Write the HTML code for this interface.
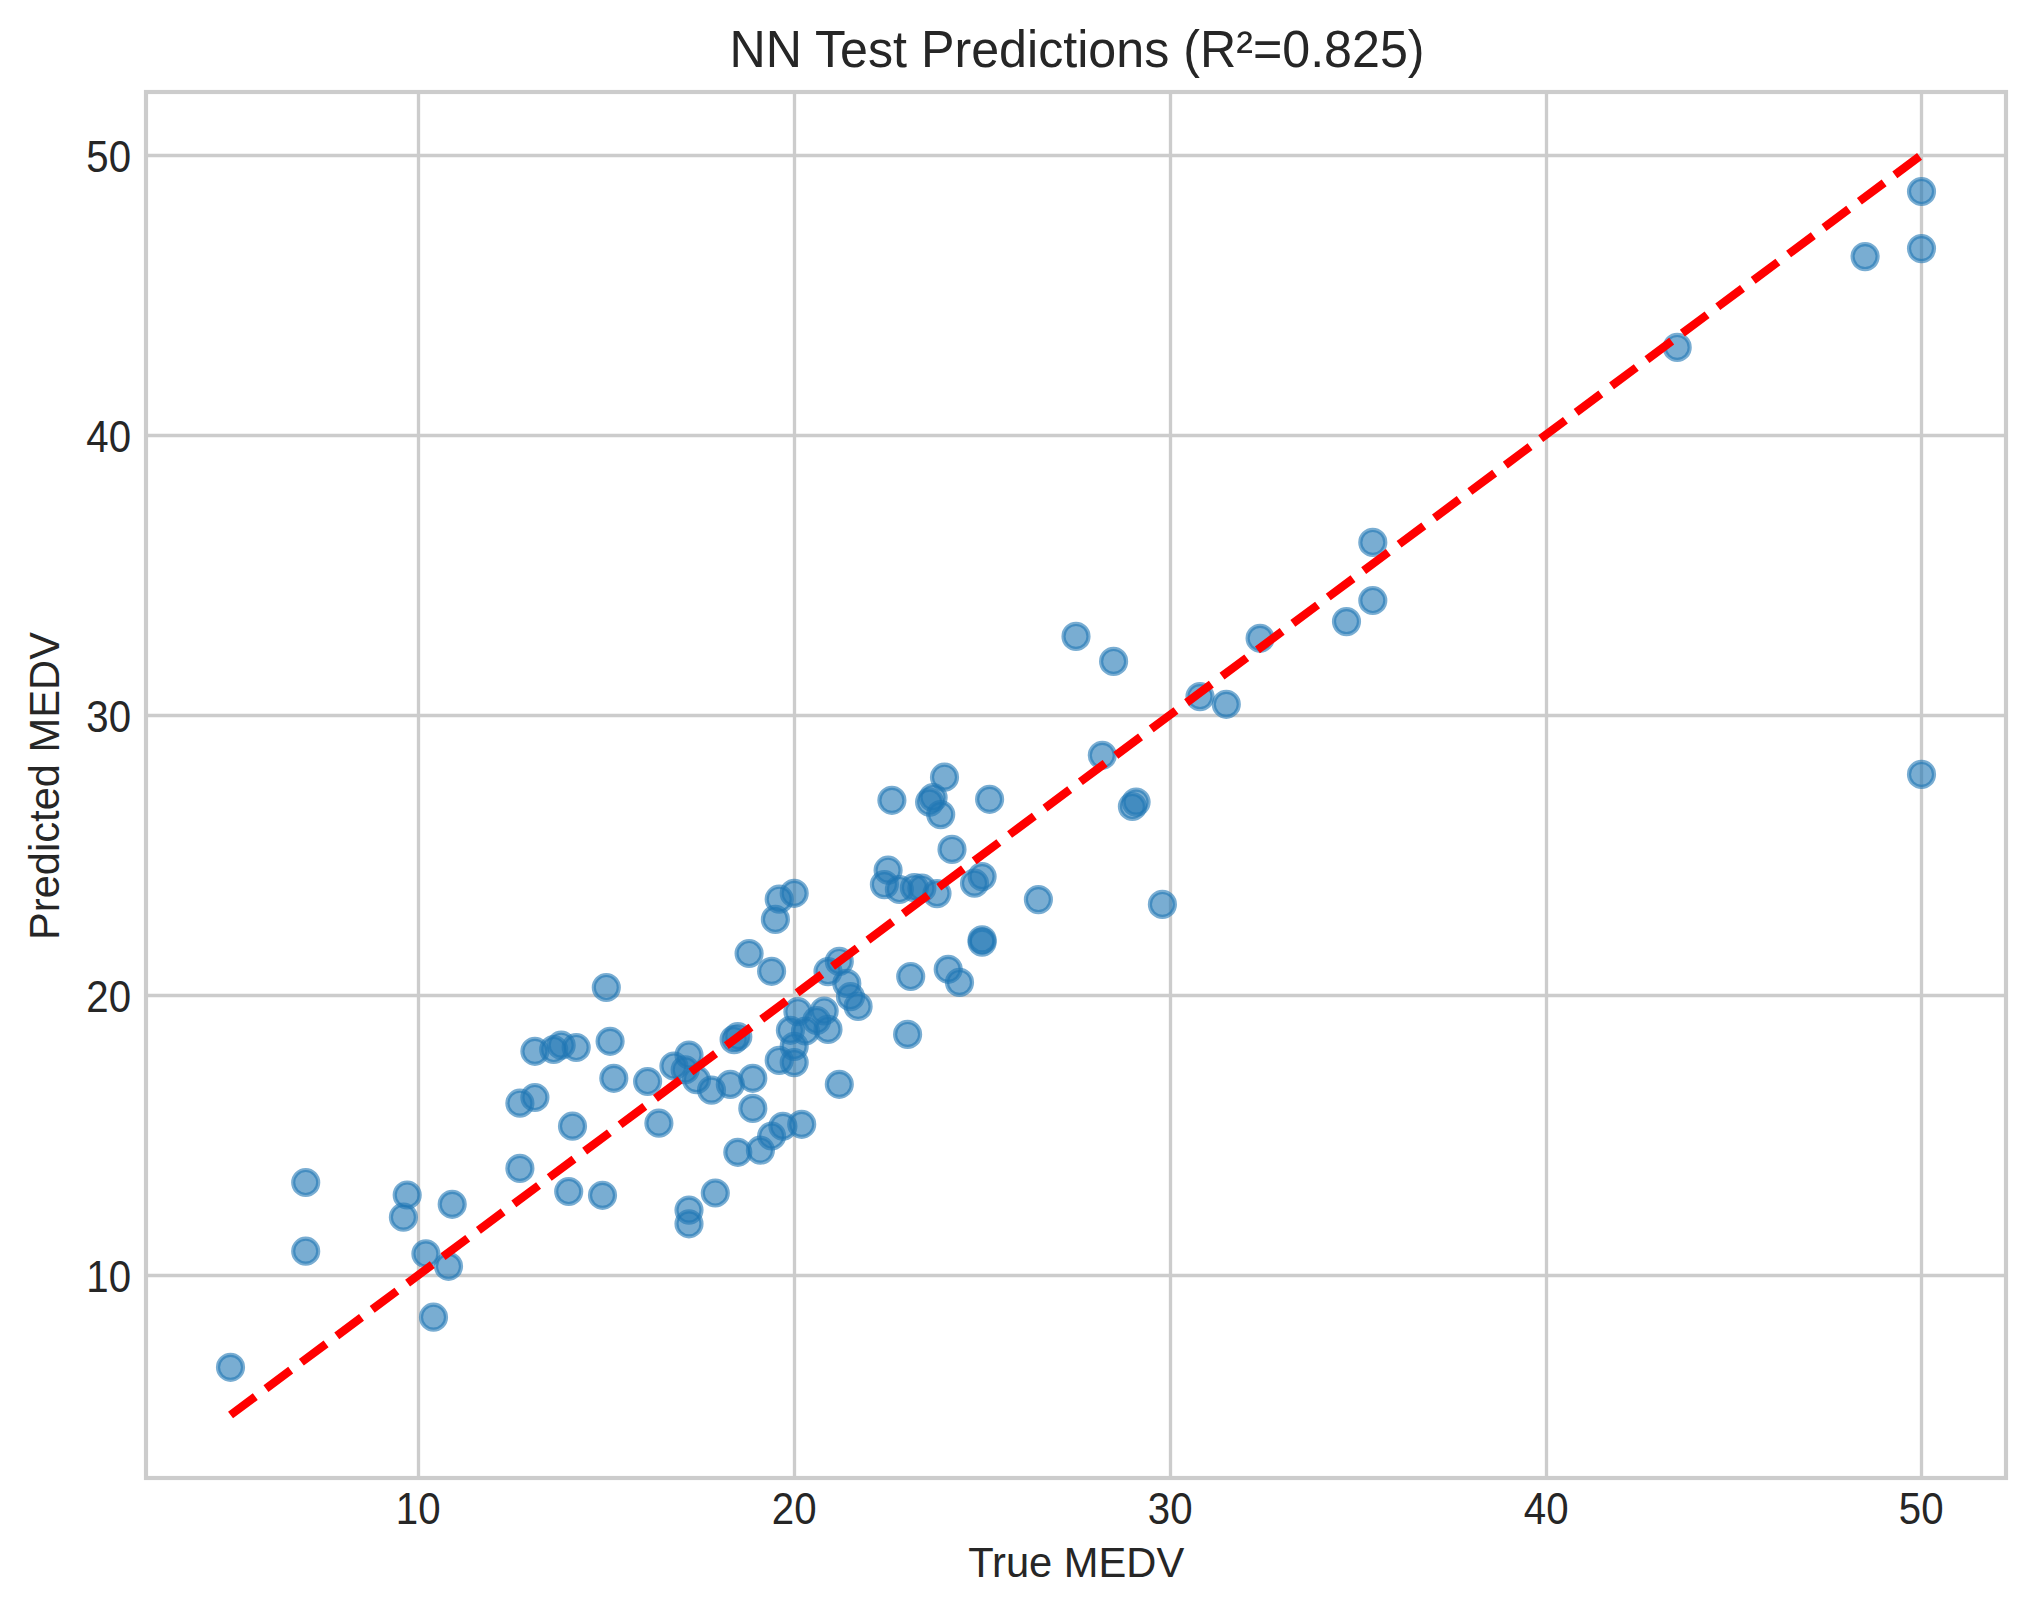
<!DOCTYPE html>
<html><head><meta charset="utf-8"><title>NN Test Predictions</title>
<style>
html,body{margin:0;padding:0;background:#fff;overflow:hidden;}
svg{display:block;}
text{font-family:"Liberation Sans",Arial,sans-serif;fill:#262626;}
.tk{font-size:41.67px;}
.ti{font-size:50px;}
.g line{stroke:#cccccc;stroke-width:3.33;}
.p circle{fill:#1f77b4;fill-opacity:.6;stroke:#1f77b4;stroke-opacity:.6;stroke-width:4.17;}
</style></head><body>
<svg width="2035" height="1615" viewBox="0 0 2035 1615">
<rect x="0" y="0" width="2035" height="1615" fill="#ffffff"/>

<g class="g">
<line x1="418.5" y1="92.0" x2="418.5" y2="1478.0"/>
<line x1="794.5" y1="92.0" x2="794.5" y2="1478.0"/>
<line x1="1170.5" y1="92.0" x2="1170.5" y2="1478.0"/>
<line x1="1546.5" y1="92.0" x2="1546.5" y2="1478.0"/>
<line x1="1921.5" y1="92.0" x2="1921.5" y2="1478.0"/>
<line x1="146.0" y1="1275.5" x2="2006.0" y2="1275.5"/>
<line x1="146.0" y1="995.5" x2="2006.0" y2="995.5"/>
<line x1="146.0" y1="715.5" x2="2006.0" y2="715.5"/>
<line x1="146.0" y1="435.5" x2="2006.0" y2="435.5"/>
<line x1="146.0" y1="155.5" x2="2006.0" y2="155.5"/>
</g>
<g class="p">
<circle cx="230.5" cy="1367.3" r="12.5"/>
<circle cx="305.7" cy="1182.5" r="12.5"/>
<circle cx="305.7" cy="1251.2" r="12.5"/>
<circle cx="407.2" cy="1195.0" r="12.5"/>
<circle cx="403.4" cy="1217.2" r="12.5"/>
<circle cx="452.2" cy="1204.3" r="12.5"/>
<circle cx="425.9" cy="1253.8" r="12.5"/>
<circle cx="448.5" cy="1266.3" r="12.5"/>
<circle cx="433.5" cy="1317.2" r="12.5"/>
<circle cx="519.9" cy="1168.4" r="12.5"/>
<circle cx="568.7" cy="1191.5" r="12.5"/>
<circle cx="519.9" cy="1103.2" r="12.5"/>
<circle cx="534.9" cy="1097.5" r="12.5"/>
<circle cx="572.5" cy="1126.2" r="12.5"/>
<circle cx="602.5" cy="1195.3" r="12.5"/>
<circle cx="613.8" cy="1078.3" r="12.5"/>
<circle cx="647.6" cy="1081.5" r="12.5"/>
<circle cx="658.9" cy="1123.2" r="12.5"/>
<circle cx="689.0" cy="1210.1" r="12.5"/>
<circle cx="689.0" cy="1223.8" r="12.5"/>
<circle cx="715.3" cy="1193.0" r="12.5"/>
<circle cx="737.8" cy="1152.3" r="12.5"/>
<circle cx="760.4" cy="1150.2" r="12.5"/>
<circle cx="771.6" cy="1136.0" r="12.5"/>
<circle cx="782.9" cy="1126.3" r="12.5"/>
<circle cx="801.7" cy="1124.3" r="12.5"/>
<circle cx="752.8" cy="1108.4" r="12.5"/>
<circle cx="752.8" cy="1078.3" r="12.5"/>
<circle cx="730.3" cy="1084.4" r="12.5"/>
<circle cx="711.5" cy="1090.1" r="12.5"/>
<circle cx="696.5" cy="1079.7" r="12.5"/>
<circle cx="534.9" cy="1051.3" r="12.5"/>
<circle cx="553.7" cy="1049.5" r="12.5"/>
<circle cx="561.2" cy="1045.2" r="12.5"/>
<circle cx="576.2" cy="1047.5" r="12.5"/>
<circle cx="610.1" cy="1041.3" r="12.5"/>
<circle cx="606.3" cy="987.5" r="12.5"/>
<circle cx="673.9" cy="1066.0" r="12.5"/>
<circle cx="689.0" cy="1055.0" r="12.5"/>
<circle cx="685.2" cy="1069.8" r="12.5"/>
<circle cx="734.1" cy="1039.6" r="12.5"/>
<circle cx="737.8" cy="1036.7" r="12.5"/>
<circle cx="779.2" cy="1060.4" r="12.5"/>
<circle cx="794.2" cy="1062.6" r="12.5"/>
<circle cx="794.2" cy="1046.4" r="12.5"/>
<circle cx="790.4" cy="1030.3" r="12.5"/>
<circle cx="797.9" cy="1011.7" r="12.5"/>
<circle cx="805.5" cy="1031.0" r="12.5"/>
<circle cx="816.7" cy="1020.5" r="12.5"/>
<circle cx="824.2" cy="1011.0" r="12.5"/>
<circle cx="828.0" cy="1029.4" r="12.5"/>
<circle cx="839.3" cy="1084.3" r="12.5"/>
<circle cx="846.8" cy="983.4" r="12.5"/>
<circle cx="850.5" cy="996.7" r="12.5"/>
<circle cx="858.1" cy="1006.4" r="12.5"/>
<circle cx="771.6" cy="971.3" r="12.5"/>
<circle cx="828.0" cy="971.6" r="12.5"/>
<circle cx="839.3" cy="961.4" r="12.5"/>
<circle cx="749.1" cy="953.5" r="12.5"/>
<circle cx="794.2" cy="893.3" r="12.5"/>
<circle cx="779.2" cy="899.2" r="12.5"/>
<circle cx="775.4" cy="919.4" r="12.5"/>
<circle cx="888.1" cy="870.2" r="12.5"/>
<circle cx="884.4" cy="884.6" r="12.5"/>
<circle cx="899.4" cy="889.5" r="12.5"/>
<circle cx="910.7" cy="976.5" r="12.5"/>
<circle cx="914.4" cy="887.7" r="12.5"/>
<circle cx="921.9" cy="888.2" r="12.5"/>
<circle cx="937.0" cy="893.6" r="12.5"/>
<circle cx="974.5" cy="883.2" r="12.5"/>
<circle cx="982.1" cy="876.6" r="12.5"/>
<circle cx="1038.4" cy="899.6" r="12.5"/>
<circle cx="944.5" cy="777.2" r="12.5"/>
<circle cx="891.9" cy="800.3" r="12.5"/>
<circle cx="989.6" cy="799.3" r="12.5"/>
<circle cx="933.1" cy="797.6" r="12.5"/>
<circle cx="929.6" cy="802.1" r="12.5"/>
<circle cx="940.7" cy="814.6" r="12.5"/>
<circle cx="952.0" cy="849.4" r="12.5"/>
<circle cx="1076.0" cy="636.4" r="12.5"/>
<circle cx="1113.6" cy="661.4" r="12.5"/>
<circle cx="1200.0" cy="696.6" r="12.5"/>
<circle cx="1226.3" cy="704.3" r="12.5"/>
<circle cx="1260.1" cy="638.3" r="12.5"/>
<circle cx="1102.3" cy="755.3" r="12.5"/>
<circle cx="1136.1" cy="802.1" r="12.5"/>
<circle cx="1132.4" cy="806.5" r="12.5"/>
<circle cx="1372.8" cy="542.4" r="12.5"/>
<circle cx="1372.8" cy="600.5" r="12.5"/>
<circle cx="1346.5" cy="621.6" r="12.5"/>
<circle cx="1162.4" cy="904.4" r="12.5"/>
<circle cx="1921.5" cy="191.5" r="12.5"/>
<circle cx="1921.5" cy="248.6" r="12.5"/>
<circle cx="1865.1" cy="256.6" r="12.5"/>
<circle cx="1677.2" cy="347.4" r="12.5"/>
<circle cx="1921.5" cy="774.4" r="12.5"/>
<circle cx="982.1" cy="939.8" r="12.5"/>
<circle cx="982.1" cy="942.1" r="12.5"/>
<circle cx="948.2" cy="969.3" r="12.5"/>
<circle cx="959.5" cy="982.4" r="12.5"/>
<circle cx="907.6" cy="1034.4" r="12.5"/>
</g>
<line x1="230.55" y1="1415.00" x2="1921.45" y2="155.00" stroke="#ff0000" stroke-width="8.33" stroke-dasharray="30.83 13.33"/>
<rect x="146.0" y="92.0" width="1860.0" height="1386.0" fill="none" stroke="#cccccc" stroke-width="4.17"/>
<text class="tk" transform="translate(418.2,1523.8) scale(0.965,1.06)" text-anchor="middle">10</text>
<text class="tk" transform="translate(794.2,1523.8) scale(0.965,1.06)" text-anchor="middle">20</text>
<text class="tk" transform="translate(1170.2,1523.8) scale(0.965,1.06)" text-anchor="middle">30</text>
<text class="tk" transform="translate(1546.2,1523.8) scale(0.965,1.06)" text-anchor="middle">40</text>
<text class="tk" transform="translate(1921.2,1523.8) scale(0.965,1.06)" text-anchor="middle">50</text>
<text class="tk" transform="translate(131.0,1292.35) scale(0.965,1.06)" text-anchor="end">10</text>
<text class="tk" transform="translate(131.0,1012.35) scale(0.965,1.06)" text-anchor="end">20</text>
<text class="tk" transform="translate(131.0,732.35) scale(0.965,1.06)" text-anchor="end">30</text>
<text class="tk" transform="translate(131.0,452.35) scale(0.965,1.06)" text-anchor="end">40</text>
<text class="tk" transform="translate(131.0,172.35) scale(0.965,1.06)" text-anchor="end">50</text>
<text class="tk" transform="translate(1076.2,1577) scale(1,1.04)" text-anchor="middle">True MEDV</text>
<text class="tk" transform="translate(59.2,786) rotate(-90) scale(1,1.035)" text-anchor="middle">Predicted MEDV</text>
<text class="ti" transform="translate(1077.0,67.2) scale(1.004,1.02)" text-anchor="middle">NN Test Predictions (R²=0.825)</text>
</svg></body></html>
